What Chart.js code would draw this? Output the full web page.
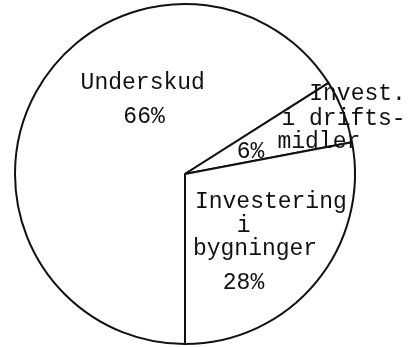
<!DOCTYPE html>
<html lang="da">
<head>
  <meta charset="UTF-8" />
  <title>Underskud og investeringer</title>
  <script src="https://cdn.jsdelivr.net/npm/chart.js"></script>
  <style>
    html, body {
      margin: 0;
      padding: 0;
      background: #fff;
    }
    #pie {
      display: block;
    }
  </style>
</head>
<body>
  <canvas id="pie" width="415" height="347"></canvas>

  <script>
    // data
    const categories = ['Underskud', 'Invest. i driftsmidler', 'Investering i bygninger'];
    const shares = [66, 6, 28];
    const labelLines = [
      ['Underskud'],
      ['Invest.', 'i drifts-', 'midler'],
      ['Investering', 'i', 'bygninger']
    ];

    // where the typed text sits, offset from the pie centre (px at r = 171)
    const textSpots = [
      { lines: [[-105, -86]], pct: [-62, -51] },
      { lines: [[125, -74], [97, -49], [93, -26]], pct: [52, -16] },
      { lines: [[10, 34], [52, 58], [8, 81]], pct: [38, 116] }
    ];

    const typedLabels = {
      id: 'typedLabels',
      afterDatasetsDraw(chart) {
        const ctx = chart.ctx;
        const arc = chart.getDatasetMeta(0).data[0];
        const k = arc.outerRadius / 171;
        ctx.save();
        ctx.fillStyle = '#111';
        ctx.font = '23px "Liberation Mono", "DejaVu Sans Mono", monospace';
        ctx.textAlign = 'left';
        ctx.textBaseline = 'alphabetic';
        labelLines.forEach((lines, i) => {
          const spot = textSpots[i];
          lines.forEach((txt, j) => {
            ctx.fillText(txt, arc.x + spot.lines[j][0] * k, arc.y + spot.lines[j][1] * k);
          });
          ctx.fillText(shares[i] + '%', arc.x + spot.pct[0] * k, arc.y + spot.pct[1] * k);
        });
        ctx.restore();
      }
    };

    new Chart(document.getElementById('pie'), {
      type: 'pie',
      data: {
        labels: categories,
        datasets: [{
          data: shares,
          backgroundColor: '#fff',
          borderColor: '#111',
          borderWidth: 2
        }]
      },
      options: {
        responsive: false,
        animation: false,
        rotation: 180,
        layout: { padding: { left: 14, right: 59, top: 3, bottom: 2 } },
        plugins: {
          legend: { display: false },
          tooltip: { enabled: false }
        }
      },
      plugins: [typedLabels]
    });
  </script>
</body>
</html>
